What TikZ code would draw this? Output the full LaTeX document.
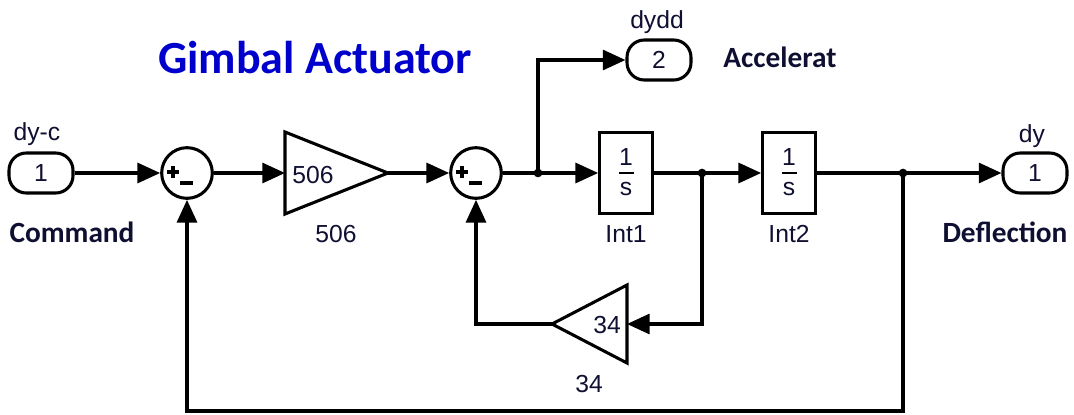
\documentclass[tikz,border=0pt]{standalone}
\usepackage{fontspec}
\setmainfont{Liberation Sans}
\newfontfamily\calfont{Carlito}
\usetikzlibrary{arrows.meta,calc}
\definecolor{txt}{RGB}{15,15,50}
\definecolor{ttl}{RGB}{0,0,205}
\begin{document}
\begin{tikzpicture}[x=0.75pt,y=-0.75pt,
  wire/.style={line width=2.3pt},
  arr/.style={wire,-{Triangle[length=17pt,width=15pt]}},
  port/.style={draw,line width=2.3pt,rounded corners=13pt,minimum width=48pt,minimum height=30pt,inner sep=0pt,font=\fontsize{18.5}{20}\selectfont,text=txt},
  sumc/.style={draw,circle,line width=2.3pt,minimum size=38pt,inner sep=0pt},
  intbox/.style={draw,line width=2.3pt,minimum width=39.5pt,minimum height=60.5pt,inner sep=0pt},
  lbl/.style={font=\fontsize{18.5}{20}\selectfont,text=txt,inner sep=0pt,anchor=base},
  blbl/.style={font=\calfont\bfseries\fontsize{22}{24}\selectfont,text=txt,inner sep=0pt,anchor=base},
  dot/.style={circle,fill,inner sep=0pt,minimum size=6.5pt},
  sign/.style={line width=2.4pt}]
\useasboundingbox (0,0) rectangle (1074,414);

% title
\node[font=\calfont\bfseries\fontsize{34.5}{36}\selectfont,text=ttl,anchor=base,inner sep=0pt] (title) at (315,73) {Gimbal Actuator};

% ports
\node[port] (in1) at (41,173) {1};
\node[lbl] (in1n) at (37,140) {dy-c};
\node[blbl] (in1d) at (72,242) {Command};

\node[port] (out2) at (659,60) {2};
\node[lbl] (out2n) at (657,28) {dydd};
\node[blbl] (out2d) at (780,67) {Accelerat};

\node[port] (out1) at (1035,173) {1};
\node[lbl] (out1n) at (1032,142) {dy};
\node[blbl] (out1d) at (1005,242) {Deflection};

% sums
\node[sumc] (sum1) at (187,173) {};
\node[sumc] (sum2) at (476,173) {};
\foreach \s in {sum1,sum2}{
  \draw[sign] ($(\s.center)+(-20,-1)$) -- ($(\s.center)+(-8,-1)$);
  \draw[sign] ($(\s.center)+(-14,-7)$) -- ($(\s.center)+(-14,5)$);
  \draw[sign] ($(\s.center)+(-7,10)$) -- ($(\s.center)+(6,10)$);
}

% gain 506
\draw[wire,line join=miter] (285,132) -- (388,173) -- (285,214) -- cycle;
\coordinate (g1in) at (285,173);
\coordinate (g1out) at (388,173);
\node[lbl] (g1t) at (313,183) {506};
\node[lbl] (g1l) at (336,242) {506};

% gain 34
\draw[wire,line join=miter] (627,285) -- (552,324) -- (627,363) -- cycle;
\coordinate (g2in) at (627,324);
\coordinate (g2out) at (552,324);
\node[lbl] (g2t) at (607,333) {34};
\node[lbl] (g2l) at (589,392) {34};

% integrators
\node[intbox] (int1) at (626,173) {};
\node[intbox] (int2) at (789,173) {};
\foreach \b/\n in {int1/Int1,int2/Int2}{
  \node[lbl] at ($(\b.center)+(0,-7.5)$) {1};
  \draw[line width=1.6pt] ($(\b.center)+(-7.5,0)$) -- ($(\b.center)+(7.5,0)$);
  \node[lbl] at ($(\b.center)+(0,22)$) {s};
  \node[lbl] at ($(\b.center)+(0,69)$) {\n};
}

% junctions
\node[dot] (j1) at (538,173) {};
\node[dot] (j2) at (702,173) {};
\node[dot] (j3) at (903,173) {};
\coordinate (fb) at (903,411);

% connectors
\draw[arr] (in1) -- (sum1);
\draw[arr] (sum1) -- (g1in);
\draw[arr] (g1out) -- (sum2);
\draw[wire] (sum2) -- (j1.center);
\draw[arr] (j1.center) -- (int1);
\draw[arr] (j1.center) |- (out2);
\draw[wire] (int1) -- (j2.center);
\draw[arr] (j2.center) -- (int2);
\draw[wire] (int2) -- (j3.center);
\draw[arr] (j3.center) -- (out1);
\draw[arr] (j2.center) |- (g2in);
\draw[arr] (g2out) -| (sum2);
\draw[arr,line join=miter] (j3.center) -- (fb) -| (sum1);
\end{tikzpicture}
\end{document}
